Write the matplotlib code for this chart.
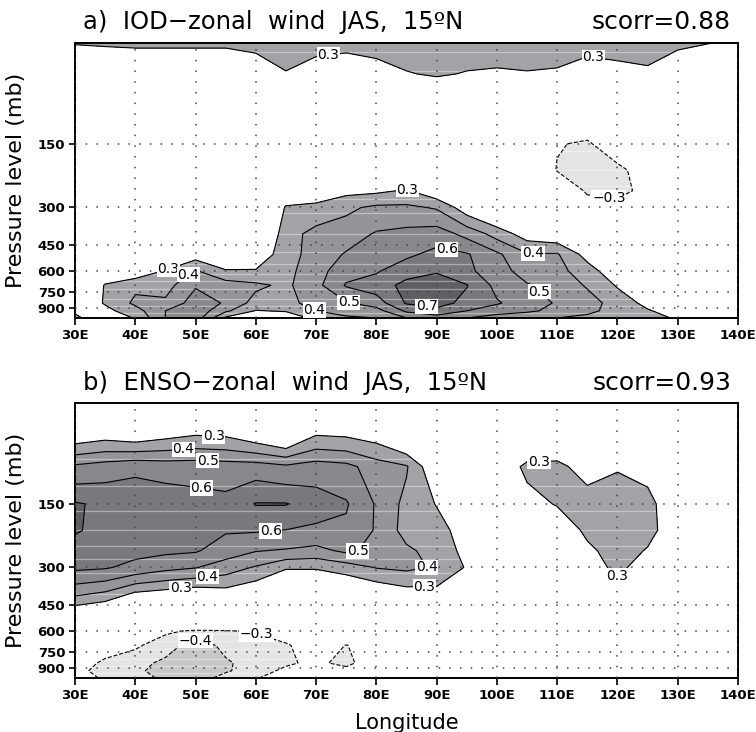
import matplotlib
matplotlib.use("Agg")
import matplotlib.pyplot as plt
from matplotlib.ticker import FixedLocator, NullLocator

# grid of the two correlation fields (rows: pressure level, cols: longitude)
lons = [30, 35, 40, 45, 50, 55, 60, 65, 70, 75, 80, 85, 90, 95, 100, 105, 110, 115, 120, 125, 130, 135, 140]
plev = [1000, 925, 850, 700, 600, 500, 400, 300, 250, 200, 150, 100, 70, 50]

# a) IOD - zonal wind correlation
iod_corr = [
    [0.33, 0.20, 0.31, 0.50, 0.56, 0.28, 0.20, 0.22, 0.33, 0.38, 0.40, 0.50, 0.55, 0.50, 0.45, 0.42, 0.40, 0.38, 0.35, 0.33, 0.29, 0.20, 0.10],
    [0.28, 0.27, 0.36, 0.50, 0.57, 0.42, 0.295, 0.31, 0.40, 0.45, 0.46, 0.62, 0.67, 0.60, 0.55, 0.52, 0.47, 0.42, 0.37, 0.31, 0.25, 0.15, 0.08],
    [0.20, 0.31, 0.42, 0.42, 0.55, 0.49, 0.36, 0.36, 0.45, 0.49, 0.55, 0.71, 0.74, 0.67, 0.61, 0.55, 0.49, 0.44, 0.36, 0.27, 0.18, 0.10, 0.05],
    [0.10, 0.31, 0.38, 0.36, 0.49, 0.45, 0.42, 0.38, 0.47, 0.61, 0.65, 0.73, 0.76, 0.705, 0.57, 0.51, 0.46, 0.39, 0.29, 0.20, 0.12, 0.06, 0.03],
    [0.05, 0.20, 0.22, 0.31, 0.41, 0.31, 0.31, 0.37, 0.46, 0.56, 0.59, 0.66, 0.69, 0.62, 0.55, 0.45, 0.43, 0.35, 0.22, 0.12, 0.08, 0.04, 0.02],
    [0.03, 0.10, 0.10, 0.15, 0.25, 0.20, 0.22, 0.36, 0.44, 0.51, 0.56, 0.58, 0.63, 0.61, 0.52, 0.41, 0.41, 0.26, 0.15, 0.08, 0.05, 0.03, 0.02],
    [0.02, 0.05, 0.05, 0.08, 0.10, 0.10, 0.15, 0.35, 0.44, 0.45, 0.51, 0.53, 0.55, 0.47, 0.36, 0.25, 0.22, 0.15, 0.10, 0.05, 0.03, 0.02, 0.02],
    [0.02, 0.03, 0.03, 0.05, 0.05, 0.06, 0.10, 0.31, 0.32, 0.38, 0.42, 0.42, 0.39, 0.24, 0.15, 0.12, 0.10, -0.20, -0.25, -0.05, 0.02, 0.02, 0.02],
    [0.02, 0.02, 0.02, 0.03, 0.04, 0.05, 0.08, 0.22, 0.25, 0.27, 0.28, 0.31, 0.22, 0.12, 0.08, 0.05, -0.10, -0.33, -0.34, -0.26, 0.00, 0.02, 0.02],
    [0.05, 0.05, 0.05, 0.05, 0.05, 0.05, 0.06, 0.10, 0.12, 0.15, 0.18, 0.20, 0.18, 0.12, 0.05, -0.10, -0.31, -0.36, -0.34, -0.22, -0.05, 0.02, 0.02],
    [0.08, 0.08, 0.08, 0.08, 0.08, 0.08, 0.08, 0.10, 0.10, 0.12, 0.12, 0.12, 0.12, 0.08, 0.02, -0.10, -0.29, -0.32, -0.20, -0.10, 0.00, 0.02, 0.02],
    [0.10, 0.10, 0.10, 0.10, 0.10, 0.10, 0.12, 0.15, 0.15, 0.15, 0.15, 0.18, 0.05, 0.15, 0.15, 0.10, -0.10, -0.15, -0.10, 0.10, 0.10, 0.10, 0.10],
    [0.10, 0.12, 0.12, 0.12, 0.12, 0.12, 0.18, 0.29, 0.21, 0.15, 0.23, 0.29, 0.32, 0.29, 0.28, 0.29, 0.28, 0.21, 0.23, 0.27, 0.14, 0.10, 0.08],
    [0.31, 0.32, 0.33, 0.33, 0.33, 0.33, 0.35, 0.38, 0.36, 0.36, 0.36, 0.38, 0.39, 0.38, 0.37, 0.38, 0.37, 0.36, 0.38, 0.37, 0.34, 0.305, 0.28],
]

# b) ENSO - zonal wind correlation
enso_corr = [
    [-0.20, -0.33, -0.36, -0.42, -0.44, -0.37, -0.32, -0.15, -0.10, -0.05, 0.00, 0.02, 0.05, 0.05, 0.05, 0.05, 0.05, 0.05, 0.05, 0.05, 0.05, 0.05, 0.05],
    [-0.25, -0.36, -0.38, -0.44, -0.47, -0.41, -0.36, -0.27, -0.28, -0.25, -0.10, 0.00, 0.05, 0.05, 0.05, 0.05, 0.05, 0.05, 0.05, 0.05, 0.05, 0.05, 0.05],
    [-0.22, -0.33, -0.37, -0.42, -0.48, -0.41, -0.37, -0.32, -0.27, -0.34, -0.20, -0.05, 0.00, 0.02, 0.05, 0.05, 0.05, 0.05, 0.05, 0.05, 0.05, 0.05, 0.05],
    [-0.10, -0.22, -0.28, -0.36, -0.44, -0.38, -0.35, -0.32, -0.20, -0.305, -0.22, -0.05, 0.00, 0.02, 0.05, 0.05, 0.05, 0.05, 0.05, 0.05, 0.05, 0.05, 0.05],
    [0.00, -0.05, -0.15, -0.28, -0.32, -0.31, -0.29, -0.20, -0.10, -0.05, 0.00, 0.02, 0.05, 0.05, 0.05, 0.05, 0.05, 0.05, 0.05, 0.05, 0.05, 0.05, 0.05],
    [0.20, 0.15, 0.08, 0.05, 0.03, 0.02, 0.02, 0.03, 0.05, 0.05, 0.08, 0.10, 0.10, 0.05, 0.02, 0.02, 0.05, 0.05, 0.10, 0.05, 0.02, 0.02, 0.02],
    [0.42, 0.38, 0.28, 0.25, 0.22, 0.25, 0.20, 0.15, 0.15, 0.15, 0.20, 0.25, 0.26, 0.15, 0.05, 0.05, 0.10, 0.12, 0.20, 0.12, 0.05, 0.03, 0.02],
    [0.62, 0.61, 0.57, 0.53, 0.505, 0.45, 0.39, 0.31, 0.31, 0.35, 0.405, 0.42, 0.39, 0.29, 0.10, 0.08, 0.12, 0.22, 0.34, 0.22, 0.10, 0.05, 0.03],
    [0.66, 0.65, 0.63, 0.62, 0.61, 0.55, 0.505, 0.49, 0.47, 0.52, 0.47, 0.42, 0.36, 0.27, 0.10, 0.08, 0.15, 0.27, 0.36, 0.29, 0.12, 0.05, 0.03],
    [0.71, 0.67, 0.66, 0.67, 0.64, 0.61, 0.61, 0.598, 0.58, 0.58, 0.49, 0.36, 0.34, 0.25, 0.12, 0.10, 0.20, 0.33, 0.38, 0.34, 0.22, 0.05, 0.03],
    [0.71, 0.68, 0.66, 0.66, 0.64, 0.63, 0.705, 0.705, 0.65, 0.61, 0.49, 0.37, 0.295, 0.18, 0.10, 0.25, 0.31, 0.36, 0.37, 0.34, 0.20, 0.05, 0.03],
    [0.52, 0.55, 0.58, 0.56, 0.56, 0.55, 0.55, 0.52, 0.55, 0.53, 0.45, 0.41, 0.20, 0.10, 0.20, 0.33, 0.33, 0.25, 0.29, 0.26, 0.12, 0.05, 0.03],
    [0.22, 0.25, 0.22, 0.26, 0.29, 0.28, 0.22, 0.15, 0.29, 0.28, 0.25, 0.15, 0.10, 0.05, 0.05, 0.15, 0.18, 0.10, 0.15, 0.10, 0.05, 0.03, 0.02],
    [0.10, 0.12, 0.10, 0.12, 0.14, 0.14, 0.12, 0.10, 0.14, 0.13, 0.10, 0.05, 0.03, 0.02, 0.02, 0.05, 0.05, 0.03, 0.05, 0.03, 0.02, 0.02, 0.02],
]

titles = ["a)  IOD\u2212zonal  wind  JAS,  15\u00baN", "b)  ENSO\u2212zonal  wind  JAS,  15\u00baN"]
scorr = ["scorr=0.88", "scorr=0.93"]
xticks = [30, 40, 50, 60, 70, 80, 90, 100, 110, 120, 130, 140]
yticks = [150, 300, 450, 600, 750, 900]

# contour label spots (lon, p), roughly where GrADS put them
label_spots_a = [(72, 52), (116, 52), (85, 255), (106, 470), (92, 450), (107, 750),
                 (88, 905), (70.5, 905), (75, 855), (44.5, 555), (49, 625), (118.5, 285)]
label_spots_b = [(53, 72), (48, 82), (52, 93), (51, 124), (62.5, 208), (77, 265), (90, 300),
                 (88, 381), (47.5, 372), (52, 335), (107, 99), (119.5, 370), (49.5, 640), (59.5, 640)]

shade_levels = [-1, -0.4, -0.3, 0.3, 0.4, 0.5, 0.6, 0.7, 1]
shade_colors = ['#c8c8cb', '#e4e4e6', 'white', '#a3a3a7', '#959599', '#88888c', '#79797d', '#5f5f63']
line_levels = [-0.4, -0.3, 0.3, 0.4, 0.5, 0.6, 0.7]
band_plev = [55, 68, 92, 123, 162, 200, 238, 275, 320, 400, 485, 555, 620, 665, 730, 810, 880, 950]

fig = plt.figure(figsize=(7.56, 7.32), dpi=100)
ax_a = fig.add_axes([0.0992, 0.5656, 0.877, 0.3757])
ax_b = fig.add_axes([0.0992, 0.0738, 0.877, 0.3757])


def lab_fmt(v):
    return f"{v:.1f}".replace('-', '\u2212')


def draw_panel(ax, field, spots):
    ax.contourf(lons, plev, field, levels=shade_levels, colors=shade_colors, zorder=1)
    for p in band_plev:
        ax.axhline(p, color='white', lw=0.9, alpha=0.4, zorder=1.5)
    styles = ['--' if v < 0 else '-' for v in line_levels]
    cs = ax.contour(lons, plev, field, levels=line_levels, colors='black',
                    linewidths=0.8, linestyles=styles, zorder=2)
    txts = ax.clabel(cs, fmt=lab_fmt, fontsize=10, inline=False, manual=spots)
    for t in txts:
        t.set_rotation(0)
        t.set_bbox(dict(boxstyle='square,pad=0.05', fc='white', ec='none'))
        t.set_zorder(4)

    ax.set_yscale('log')
    ax.set_ylim(1000, 50)
    ax.set_xlim(30, 140)
    ax.yaxis.set_major_locator(FixedLocator(yticks))
    ax.yaxis.set_minor_locator(NullLocator())
    ax.set_yticklabels([str(v) for v in yticks])
    ax.set_xticks(xticks)
    ax.set_xticklabels([f"{v}E" for v in xticks])
    ax.tick_params(axis='x', direction='out', length=5, width=1.2, pad=3, labelsize=9.5)
    ax.tick_params(axis='y', direction='out', length=4, width=1.2, pad=3, labelsize=9.5)
    for lab in ax.get_xticklabels() + ax.get_yticklabels():
        lab.set_fontweight('bold')
    ax.grid(True, color='#444444', lw=1.1, linestyle=(0, (1, 6)), zorder=3)
    ax.set_axisbelow(False)
    for s in ax.spines.values():
        s.set_linewidth(1.4)
    ax.set_ylabel("Pressure level (mb)", fontsize=16, labelpad=8)


draw_panel(ax_a, iod_corr, label_spots_a)
draw_panel(ax_b, enso_corr, label_spots_b)
ax_b.set_xlabel("Longitude", fontsize=15, labelpad=8)

fig.text(0.110, 1 - 22 / 732, titles[0], fontsize=17.5, va='center', ha='left')
fig.text(0.967, 1 - 22 / 732, scorr[0], fontsize=18, va='center', ha='right')
fig.text(0.110, 1 - 383 / 732, titles[1], fontsize=17.5, va='center', ha='left')
fig.text(0.967, 1 - 383 / 732, scorr[1], fontsize=18, va='center', ha='right')

fig.savefig("out.png", dpi=100)
